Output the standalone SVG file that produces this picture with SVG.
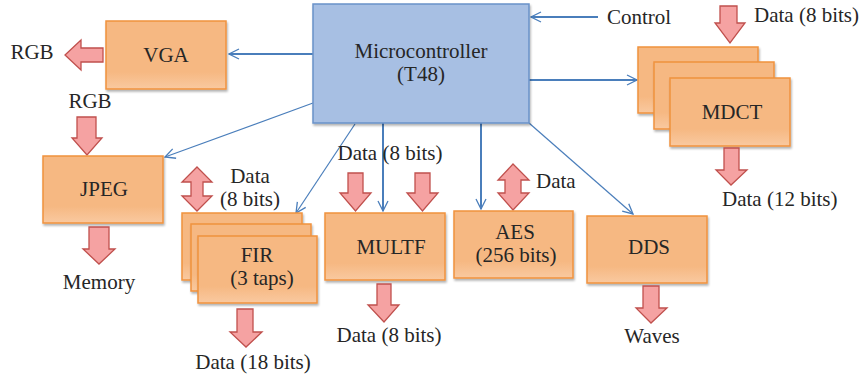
<svg xmlns="http://www.w3.org/2000/svg" width="862" height="381" viewBox="0 0 862 381">
<style>
.m{text-anchor:middle}
.box{fill:url(#og);stroke:#f0923e;stroke-width:1.5;filter:url(#sh)}
.mc{fill:#a7bfe3;stroke:#6a92c9;stroke-width:1.5;filter:url(#sh)}
.ba{fill:#f5a2a2;stroke:#c0504d;stroke-width:1.3;stroke-linejoin:miter}
.c{fill:none;stroke:#4a7ebb;marker-end:url(#ah)}
.t{stroke-width:2}
.n{stroke-width:1.2}
</style>
<defs>
<linearGradient id="og" x1="0" y1="0" x2="0" y2="1">
<stop offset="0" stop-color="#f6b882"/>
<stop offset="0.75" stop-color="#f6b882"/>
<stop offset="1" stop-color="#f9c9a0"/>
</linearGradient>
<filter id="sh" x="-10%" y="-10%" width="130%" height="130%">
<feDropShadow dx="1" dy="2" stdDeviation="1.2" flood-color="#000" flood-opacity="0.3"/>
</filter>
<marker id="ah" viewBox="0 0 12 12" refX="11" refY="6" markerWidth="12" markerHeight="12" markerUnits="userSpaceOnUse" orient="auto">
<path d="M1,1 L11,6 L1,11" fill="none" stroke="#4a7ebb" stroke-width="1.3"/>
</marker>
</defs>

<g id="connectors">
<line class="c t" x1="313" y1="54" x2="229" y2="54"/>
<line class="c t" x1="598" y1="17" x2="531" y2="17"/>
<line class="c t" x1="529" y1="80" x2="637" y2="80"/>
<line class="c n" x1="313" y1="103" x2="165" y2="157"/>
<line class="c n" x1="355" y1="124" x2="296" y2="213"/>
<line class="c t" x1="383" y1="123" x2="383" y2="211"/>
<line class="c t" x1="481" y1="123" x2="481" y2="209"/>
<line class="c n" x1="529" y1="123" x2="633" y2="214"/>
</g>

<g font-family="Liberation Serif, Times New Roman, serif" font-size="21" fill="#262626">
<g id="microcontroller">
<rect class="mc" x="313" y="4" width="216" height="119"/>
<text class="m" x="421" y="58">Microcontroller</text>
<text class="m" x="421" y="81">(T48)</text>
</g>

<g id="vga">
<rect class="box" x="106" y="21" width="120" height="68"/>
<text class="m" x="166" y="62">VGA</text>
<path class="ba" d="M103 48 H81 V40 L65 55 L81 70 V62 H103 Z"/>
<text class="m" x="32" y="59">RGB</text>
</g>

<g id="jpeg">
<text class="m" x="90" y="108">RGB</text>
<path class="ba" d="M77 117 H96 V138 H102 L87 155 L72 138 H77 Z"/>
<rect class="box" x="43" y="156" width="120" height="67"/>
<text class="m" x="104" y="196">JPEG</text>
<path class="ba" d="M89 227 H109 V249 H115 L99 264 L83 249 H89 Z"/>
<text class="m" x="99" y="289">Memory</text>
</g>

<g id="fir">
<path class="ba" d="M197 167 L212 182 H203 V196 H212 L197 211 L182 196 H191 V182 H182 Z"/>
<text class="m" x="250" y="183">Data</text>
<text class="m" x="250" y="206">(8 bits)</text>
<rect class="box" x="182" y="213" width="120" height="67"/>
<rect class="box" x="191" y="224" width="120" height="67"/>
<rect class="box" x="198" y="236" width="119" height="67"/>
<text class="m" x="257" y="262">FIR</text>
<text class="m" x="262" y="285">(3 taps)</text>
<path class="ba" d="M237 309 H253 V332 H262 L246 347 L230 332 H237 Z"/>
<text class="m" x="253" y="369">Data (18 bits)</text>
</g>

<g id="multf">
<text class="m" x="390" y="160">Data (8 bits)</text>
<path class="ba" d="M348 173 H363 V193 H371 L355.5 211 L340 193 H348 Z"/>
<path class="ba" d="M415 173 H430 V193 H438 L422.5 211 L407 193 H415 Z"/>
<rect class="box" x="325" y="213" width="120" height="67"/>
<text class="m" x="391" y="254">MULTF</text>
<path class="ba" d="M377 284 H391 V305 H399 L384 322 L368 305 H377 Z"/>
<text class="m" x="389" y="342">Data (8 bits)</text>
</g>

<g id="aes">
<path class="ba" d="M513 164 L529 180 H521 V193 H529 L513 210 L498 193 H505 V180 H498 Z"/>
<text x="536" y="188">Data</text>
<rect class="box" x="454" y="211" width="119" height="67"/>
<text class="m" x="515" y="239">AES</text>
<text class="m" x="516" y="262">(256 bits)</text>
</g>

<g id="dds">
<rect class="box" x="587" y="216" width="120" height="67"/>
<text class="m" x="649" y="254">DDS</text>
<path class="ba" d="M643 286 H659 V308 H667 L651 323 L636 308 H643 Z"/>
<text class="m" x="652" y="343">Waves</text>
</g>

<g id="mdct">
<text x="607" y="24">Control</text>
<path class="ba" d="M720 6 H737 V23 H745 L730 43 L715 23 H720 Z"/>
<text x="754" y="22">Data (8 bits)</text>
<rect class="box" x="638" y="47" width="120" height="66"/>
<rect class="box" x="654" y="62" width="120" height="67"/>
<rect class="box" x="670" y="78" width="120" height="68"/>
<text class="m" x="732" y="119">MDCT</text>
<path class="ba" d="M724 148 H739 V170 H747 L731 185 L716 170 H724 Z"/>
<text x="722" y="206">Data (12 bits)</text>
</g>
</g>
</svg>
